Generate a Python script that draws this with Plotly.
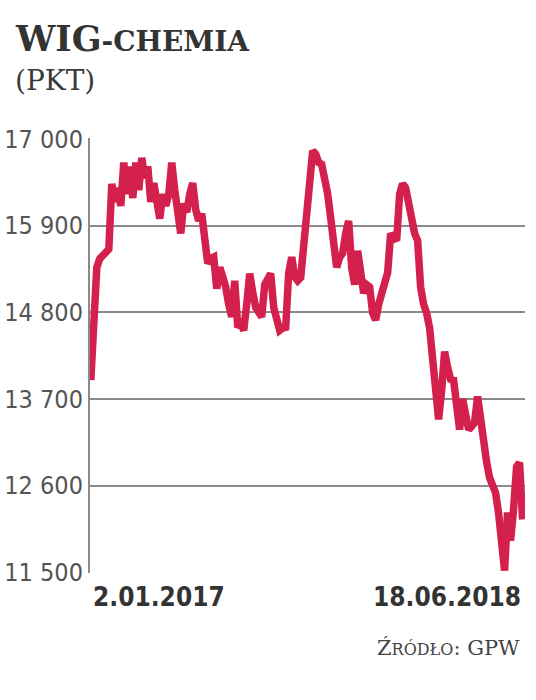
import plotly.graph_objects as go
import pandas as pd

start_date = "2017-01-02"
end_date = "2018-06-18"
start_label = "2.01.2017"
end_label = "18.06.2018"

values = [
    13940, 14500, 15370, 15480, 15520, 15550, 15600, 16430, 16200, 16380,
    16150, 16700, 16300, 16650, 16250, 16700, 16350, 16760, 16500, 16650,
    16200, 16440, 16150, 15990, 16300, 16150, 16300, 16700, 16350, 16000,
    15800, 16180, 16070, 16300, 16440, 16100, 15960, 16050, 15600, 15420,
    15480, 15500, 15100, 15370, 15250, 15120, 14900, 14740, 15200, 14610,
    14650, 14570, 14900, 15290, 15050, 14860, 14800, 14740, 15150, 15250,
    15290, 14860, 14650, 14570, 14600, 14610, 15300, 15500, 15250, 15200,
    15240, 15700, 16050, 16500, 16850, 16810, 16700, 16680, 16500, 16300,
    16000, 15700, 15370, 15500, 15550, 15800, 15960, 15370, 15150, 15580,
    15350, 15040, 15150, 15120, 14790, 14700, 14900, 15080, 15170, 15300,
    15800, 15750, 15710, 16300, 16430, 16380, 16150, 15960, 15800, 15710,
    15120, 14900, 14790, 14600, 14160, 13900, 13440, 13800, 14300, 14100,
    13950, 13940, 13500, 13310, 13700, 13500, 13310, 13350, 13400, 13730,
    13400, 13100, 12900, 12700, 12600, 12510, 12250, 11900, 11520, 12260,
    11900, 12300, 12840, 12890, 12170,
]
dates = pd.date_range(start_date, end_date, periods=len(values))

y_ticks = [11500, 12600, 13700, 14800, 15900, 17000]
y_tick_labels = ["11 500", "12 600", "13 700", "14 800", "15 900", "17 000"]

title_main = "WIG"
title_sub = "-CHEMIA"
unit = "(PKT)"
source_parts = ["Ź", "RÓDŁO", ": GPW"]

cond = "DejaVu Sans Condensed, DejaVu Sans, sans-serif"
serif = "DejaVu Serif, serif"

fig = go.Figure()
fig.add_trace(go.Scatter(
    x=dates, y=values, mode="lines",
    line=dict(color="#d4204c", width=7.5),
    hoverinfo="skip", showlegend=False,
))

source_text = (f"<span style='font-size:21px'>{source_parts[0]}</span>"
               f"<span style='font-size:16px'>{source_parts[1]}</span>"
               f"<span style='font-size:21px'>{source_parts[2]}</span>")

fig.update_layout(
    width=536, height=700, autosize=False,
    margin=dict(l=90, r=11, t=138, b=127),
    paper_bgcolor="white", plot_bgcolor="white",
    xaxis=dict(
        range=[pd.Timestamp(start_date) - pd.Timedelta(days=1), pd.Timestamp(end_date) + pd.Timedelta(days=3)],
        showgrid=False, showticklabels=False, zeroline=False, showline=False, ticks="",
        automargin=False,
    ),
    yaxis=dict(
        range=[11490, 17012],
        tickvals=y_ticks, ticktext=y_tick_labels,
        showgrid=True, gridcolor="#8a8a8a", gridwidth=2,
        showline=True, linecolor="#8a8a8a", linewidth=2,
        zeroline=False, ticks="", automargin=False,
        tickfont=dict(family=cond, size=25, color="#555555"),
    ),
    font=dict(family=serif, color="#333333"),
    annotations=[
        dict(xref="paper", yref="paper", x=-0.177, y=1.229, xanchor="left", yanchor="middle",
             showarrow=False,
             text=f"<b>{title_main}<span style='font-size:28px'>{title_sub}</span></b>",
             font=dict(family=serif, size=35, color="#333333")),
        dict(xref="paper", yref="paper", x=-0.177, y=1.133, xanchor="left", yanchor="middle",
             showarrow=False, text=unit,
             font=dict(family=serif, size=28, color="#3a3a3a")),
        dict(xref="x", yref="paper", x=dates[0], y=-0.055, xanchor="left", yanchor="middle",
             showarrow=False, text=f"<b>{start_label}</b>",
             font=dict(family=cond, size=26, color="#333333")),
        dict(xref="x", yref="paper", x=dates[-1], y=-0.055, xanchor="right", yanchor="middle",
             showarrow=False, text=f"<b>{end_label}</b>",
             font=dict(family=cond, size=26, color="#333333")),
        dict(xref="paper", yref="paper", x=0.993, y=-0.172, xanchor="right", yanchor="middle",
             showarrow=False, text=source_text,
             font=dict(family=serif, size=21, color="#444444")),
    ],
)

fig.write_html("out.html", config={"displayModeBar": False},
               post_script="document.body.style.margin='0';")
